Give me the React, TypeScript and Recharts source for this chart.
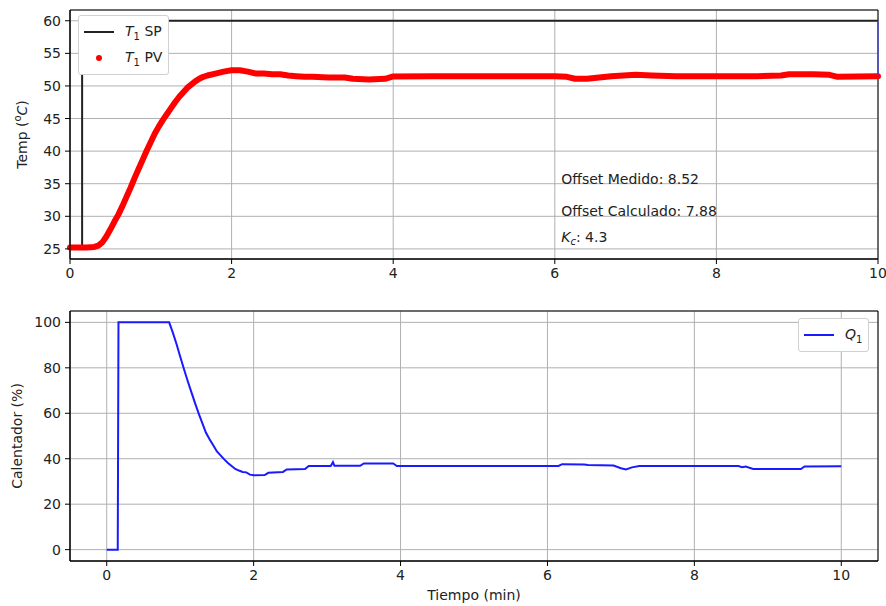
import { ComposedChart, Line, XAxis, YAxis, CartesianGrid, Legend, ReferenceArea, ReferenceDot } from "recharts"

// setpoint (black step)
const spTime = [0, 0.15, 0.15, 10]
const spTemp = [25, 25, 60, 60]

// thin blue segment on the right border of the top plot
const edgeTime = [10, 10]
const edgeTemp = [60, 51.5]

// measured temperature T1 (red dots)
const pvTime = [
  0, 0.1, 0.2, 0.3, 0.35, 0.4, 0.45, 0.5, 0.55, 0.6, 0.65, 0.7, 0.75, 0.8, 0.85, 0.9, 0.95, 1.0,
  1.05, 1.1, 1.15, 1.2, 1.25, 1.3, 1.35, 1.4, 1.45, 1.5, 1.55, 1.6, 1.65, 1.7, 1.8, 1.9, 2.0, 2.1,
  2.2, 2.3, 2.4, 2.5, 2.6, 2.7, 2.8, 2.9, 3.0, 3.2, 3.4, 3.5, 3.7, 3.9, 4.0, 4.5, 5.0, 5.5, 6.0,
  6.15, 6.25, 6.4, 6.55, 6.7, 7.0, 7.2, 7.5, 8.0, 8.5, 8.8, 8.9, 9.2, 9.4, 9.5, 10,
]
const pvTemp = [
  25.2, 25.2, 25.2, 25.3, 25.5, 26.0, 26.9, 28.0, 29.2, 30.3, 31.6, 33.0, 34.4, 35.9, 37.3, 38.7, 40.1, 41.4,
  42.7, 43.8, 44.8, 45.7, 46.6, 47.5, 48.3, 49.0, 49.7, 50.2, 50.7, 51.1, 51.4, 51.6, 51.9, 52.2, 52.4, 52.4,
  52.2, 51.9, 51.9, 51.8, 51.8, 51.6, 51.5, 51.4, 51.4, 51.3, 51.3, 51.1, 51.0, 51.1, 51.45, 51.5, 51.5, 51.5, 51.5,
  51.4, 51.1, 51.1, 51.3, 51.5, 51.7, 51.6, 51.5, 51.5, 51.5, 51.6, 51.8, 51.8, 51.7, 51.4, 51.5,
]

// heater output Q1
const qTime = [
  0, 0.15, 0.16, 0.85, 0.9, 0.95, 1.0, 1.05, 1.1, 1.15, 1.2, 1.25, 1.3, 1.35, 1.4, 1.45, 1.5, 1.55,
  1.6, 1.65, 1.7, 1.75, 1.8, 1.85, 1.9, 1.95, 2.0, 2.15, 2.2, 2.4, 2.45, 2.7, 2.75, 3.05, 3.08, 3.1,
  3.45, 3.5, 3.9, 3.95, 6.15, 6.2, 6.5, 6.55, 6.9, 7.0, 7.07, 7.15, 7.25, 8.6, 8.65, 8.7, 8.8, 9.45,
  9.5, 10,
]
const qValue = [
  0, 0, 100, 100, 95.5, 90.5, 85, 79.6, 74.4, 69.5, 64.7, 60.1, 55.8, 51.5, 48.6, 45.9, 43.2, 41.5,
  39.7, 38.1, 36.8, 35.5, 34.8, 34.2, 34.0, 33.0, 32.7, 32.8, 33.8, 34.2, 35.3, 35.5, 36.8, 36.8, 38.5, 36.9,
  36.9, 37.9, 37.9, 36.8, 36.8, 37.6, 37.5, 37.2, 37.0, 35.8, 35.3, 36.2, 36.8, 36.8, 36.3, 36.6, 35.5, 35.5,
  36.6, 36.7,
]

const tempTicks = [25, 30, 35, 40, 45, 50, 55, 60]
const heatTicks = [0, 20, 40, 60, 80, 100]
const timeTicks = [0, 2, 4, 6, 8, 10]

const zip = (t: number[], v: number[]) => t.map((x, i) => ({ t: x, v: v[i] }))

const spData = zip(spTime, spTemp)
const edgeData = zip(edgeTime, edgeTemp)
const pvData = zip(pvTime, pvTemp)
const qData = zip(qTime, qValue)

const legendOrder = ["T1 SP", "T1 PV", "Q1"]

const tick = { fontSize: 14, fill: "#222" }
const font = "'DejaVu Sans', sans-serif"

function Sub({ main, sub, rest }: { main: string; sub: string; rest?: string }) {
  return (
    <span>
      <i>{main}</i>
      <sub style={{ fontSize: 10 }}>{sub}</sub>
      {rest}
    </span>
  )
}

function legendLabel(name: string) {
  if (name === "T1 SP") return <Sub main="T" sub="1" rest=" SP" />
  if (name === "T1 PV") return <Sub main="T" sub="1" rest=" PV" />
  if (name === "Q1") return <Sub main="Q" sub="1" />
  return name
}

function LegendBox(props: any) {
  const items = (props.payload || [])
    .filter((p: any) => p.type !== "none")
    .sort((a: any, b: any) => legendOrder.indexOf(a.value) - legendOrder.indexOf(b.value))
  return (
    <div
      style={{
        display: "inline-block",
        border: "1px solid #d0d0d0",
        borderRadius: 3,
        background: "#fff",
        padding: "3px 6px 3px 4px",
        fontFamily: font,
        fontSize: 14,
        color: "#222",
        whiteSpace: "nowrap",
      }}
    >
      {items.map((p: any) => (
        <div key={p.value} style={{ display: "flex", alignItems: "center", height: 26 }}>
          <svg width={32} height={10} style={{ marginRight: 10 }}>
            {p.type === "circle" ? (
              <circle cx={16} cy={5} r={3} fill={p.color} />
            ) : (
              <line x1={1} x2={31} y1={5} y2={5} stroke={p.color} strokeWidth={2} />
            )}
          </svg>
          {legendLabel(p.value)}
        </div>
      ))}
    </div>
  )
}

function yLabel(x: number, content: any) {
  return (props: any) => {
    const vb = props.viewBox
    const cy = vb.y + vb.height / 2
    return (
      <text
        x={x}
        y={cy}
        transform={`rotate(-90 ${x} ${cy})`}
        textAnchor="middle"
        dominantBaseline="central"
        fontSize={14}
        fill="#222"
      >
        {content}
      </text>
    )
  }
}

function note(content: any) {
  return (props: any) => (
    <text x={props.viewBox.x} y={props.viewBox.y} fontSize={14} fill="#222">
      {content}
    </text>
  )
}

export default function App() {
  return (
    <div style={{ position: "absolute", left: 0, top: 0, width: 886, height: 606, background: "#fff", fontFamily: font }}>
      <div style={{ position: "absolute", left: 0, top: 0 }}>
        <ComposedChart width={886} height={300} margin={{ top: 10, right: 8, bottom: 11, left: 0 }}>
          <CartesianGrid stroke="#b0b0b0" strokeWidth={1} />
          <XAxis
            dataKey="t"
            type="number"
            domain={[0, 10]}
            ticks={timeTicks}
            allowDuplicatedCategory={false}
            tick={tick}
            tickSize={5}
            tickMargin={4}
            height={30}
            stroke="#000"
          />
          <YAxis
            type="number"
            domain={[23.45, 61.65]}
            ticks={tempTicks}
            tick={tick}
            tickSize={5}
            tickMargin={4}
            width={70}
            stroke="#000"
            allowDataOverflow
            label={yLabel(
              22,
              <>
                <tspan>Temp (</tspan>
                <tspan fontSize={10} dy={-5}>o</tspan>
                <tspan fontStyle="italic" dy={5}>C</tspan>
                <tspan>)</tspan>
              </>
            )}
          />
          <ReferenceArea x1={0} x2={10} y1={23.45} y2={61.65} fill="none" stroke="#000" strokeWidth={1} ifOverflow="visible" />
          <Line data={spData} dataKey="v" name="T1 SP" stroke="#222" strokeWidth={2} dot={false} isAnimationActive={false} legendType="line" />
          <Line data={pvData} dataKey="v" name="T1 PV" stroke="#ff0000" strokeWidth={6} strokeLinecap="round" strokeLinejoin="round" dot={false} isAnimationActive={false} legendType="circle" />
          <Line data={edgeData} dataKey="v" name="edge" stroke="#4040ff" strokeWidth={1} dot={false} isAnimationActive={false} legendType="none" />
          <ReferenceDot x={6.08} y={35} r={0} fill="none" stroke="none" label={note("Offset Medido: 8.52")} />
          <ReferenceDot x={6.08} y={30} r={0} fill="none" stroke="none" label={note("Offset Calculado: 7.88")} />
          <ReferenceDot
            x={6.08}
            y={26.1}
            r={0}
            fill="none"
            stroke="none"
            label={note(
              <>
                <tspan fontStyle="italic">K</tspan>
                <tspan fontStyle="italic" fontSize={10} dy={3}>c</tspan>
                <tspan dy={-3}>: 4.3</tspan>
              </>
            )}
          />
          <Legend
            layout="vertical"
            align="center"
            verticalAlign="middle"
            content={LegendBox}
            wrapperStyle={{ left: 78, top: 15, width: "auto", height: "auto" }}
          />
        </ComposedChart>
      </div>
      <div style={{ position: "absolute", left: 0, top: 300 }}>
        <ComposedChart width={886} height={306} margin={{ top: 11, right: 8, bottom: 0, left: 0 }}>
          <CartesianGrid stroke="#b0b0b0" strokeWidth={1} />
          <XAxis
            dataKey="t"
            type="number"
            domain={[-0.5, 10.5]}
            ticks={timeTicks}
            tick={tick}
            tickSize={5}
            tickMargin={4}
            height={45}
            stroke="#000"
            label={(props: any) => (
              <text x={props.viewBox.x + props.viewBox.width / 2} y={props.viewBox.y + 39} textAnchor="middle" fontSize={14} fill="#222">
                Tiempo (min)
              </text>
            )}
          />
          <YAxis
            type="number"
            domain={[-5, 105]}
            ticks={heatTicks}
            tick={tick}
            tickSize={5}
            tickMargin={4}
            width={70}
            stroke="#000"
            label={yLabel(17, "Calentador (%)")}
          />
          <ReferenceArea x1={-0.5} x2={10.5} y1={-5} y2={105} fill="none" stroke="#000" strokeWidth={1} ifOverflow="visible" />
          <Line data={qData} dataKey="v" name="Q1" stroke="#1a1aff" strokeWidth={2} dot={false} isAnimationActive={false} legendType="line" />
          <Legend
            layout="vertical"
            align="center"
            verticalAlign="middle"
            content={LegendBox}
            wrapperStyle={{ left: 798, top: 18, width: "auto", height: "auto" }}
          />
        </ComposedChart>
      </div>
    </div>
  )
}
